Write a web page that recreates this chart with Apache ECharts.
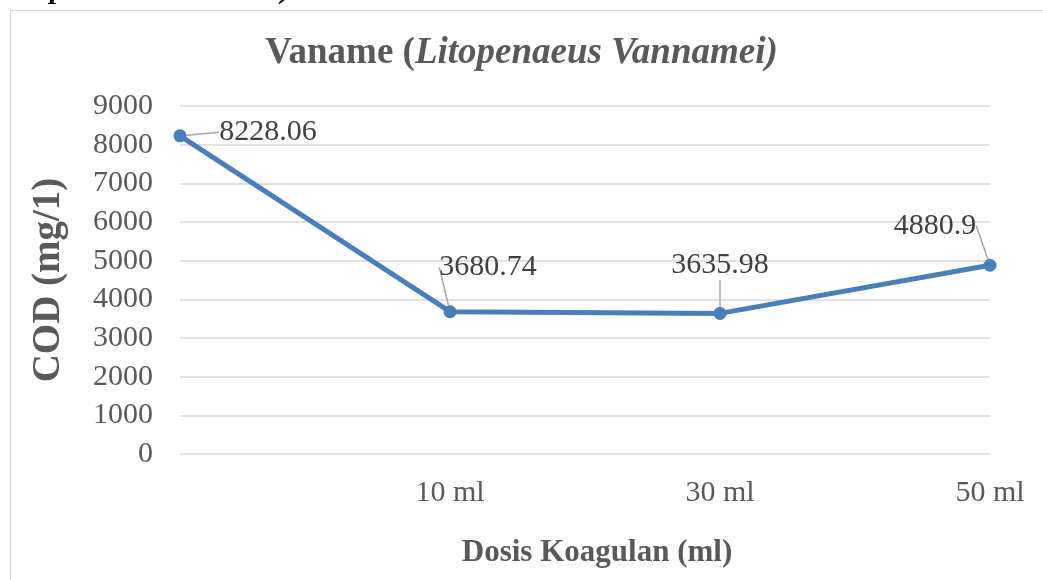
<!DOCTYPE html>
<html>
<head>
<meta charset="utf-8">
<script src="https://cdn.jsdelivr.net/npm/echarts@6/dist/echarts.min.js"></script>
<style>
  html, body { margin: 0; padding: 0; background: #fff; }
  #chart { width: 1043px; height: 580px; }
</style>
</head>
<body>
<div id="chart"></div>
<script>
// Datos
const categories = ['', '10 ml', '30 ml', '50 ml'];
const codValues = [8228.06, 3680.74, 3635.98, 4880.9];
const yTicks = [0, 1000, 2000, 3000, 4000, 5000, 6000, 7000, 8000, 9000];

// Desplazamientos de las etiquetas (estilo Excel con línea guía)
const labelOffsets = [[88, 20], [38, -21], [0, -25], [-55, -16]];

const serif = '"Liberation Serif", "DejaVu Serif", serif';
const gray = '#595959';

const chart = echarts.init(document.getElementById('chart'));

const options = {
  backgroundColor: '#fff',
  animation: false,
  title: {
    text: '{b|Vaname (}{bi|Litopenaeus Vannamei)}',
    left: 'center',
    top: 30,
    textStyle: {
      rich: {
        b: { fontFamily: serif, fontWeight: 'bold', fontSize: 37, color: gray },
        bi: { fontFamily: serif, fontWeight: 'bold', fontStyle: 'italic', fontSize: 37, color: gray }
      }
    }
  },
  graphic: [
    {
      type: 'rect',
      shape: { x: 10.5, y: 10.5, width: 1100, height: 700 },
      style: { fill: 'none', stroke: '#d9d9d9', lineWidth: 1 },
      silent: true
    },
    {
      // texto cortado arriba, resto del documento
      type: 'text',
      left: 0,
      top: -25,
      style: {
        text: 'Litopenaeus vannamei)',
        font: 'italic bold 30px ' + serif,
        fill: '#000'
      }
    }
  ],
  grid: { left: 180, right: 53, top: 106, bottom: 126 },
  xAxis: {
    type: 'category',
    data: categories,
    boundaryGap: false,
    axisLine: { show: false },
    axisTick: { show: false },
    axisLabel: { fontFamily: serif, fontSize: 30, color: gray, margin: 24 },
    name: 'Dosis Koagulan (ml)',
    nameLocation: 'middle',
    nameGap: 83,
    nameTextStyle: { fontFamily: serif, fontWeight: 'bold', fontSize: 31, color: gray, padding: [0, 0, 0, 24] }
  },
  yAxis: {
    type: 'value',
    min: 0,
    max: yTicks[yTicks.length - 1],
    interval: yTicks[1] - yTicks[0],
    axisLine: { show: false },
    axisTick: { show: false },
    axisLabel: { fontFamily: serif, fontSize: 30, color: gray, margin: 27, formatter: v => String(v) },
    splitLine: { lineStyle: { color: '#d9d9d9', width: 1.5 } },
    name: 'COD (mg/1)',
    nameLocation: 'middle',
    nameGap: 112,
    nameTextStyle: { fontFamily: serif, fontWeight: 'bold', fontSize: 39, color: gray }
  },
  series: [
    {
      type: 'line',
      data: codValues,
      symbol: 'circle',
      symbolSize: 13,
      lineStyle: { color: '#4a7ebb', width: 5 },
      itemStyle: { color: '#4a7ebb' },
      label: {
        show: true,
        position: 'top',
        distance: 2,
        fontFamily: serif,
        fontSize: 30,
        color: '#404040',
        formatter: p => String(codValues[p.dataIndex])
      },
      labelLine: { show: true, lineStyle: { color: '#a6a6a6', width: 1.5 } },
      labelLayout: p => ({ dx: labelOffsets[p.dataIndex][0], dy: labelOffsets[p.dataIndex][1] })
    }
  ]
};

chart.setOption(options);
</script>
</body>
</html>
